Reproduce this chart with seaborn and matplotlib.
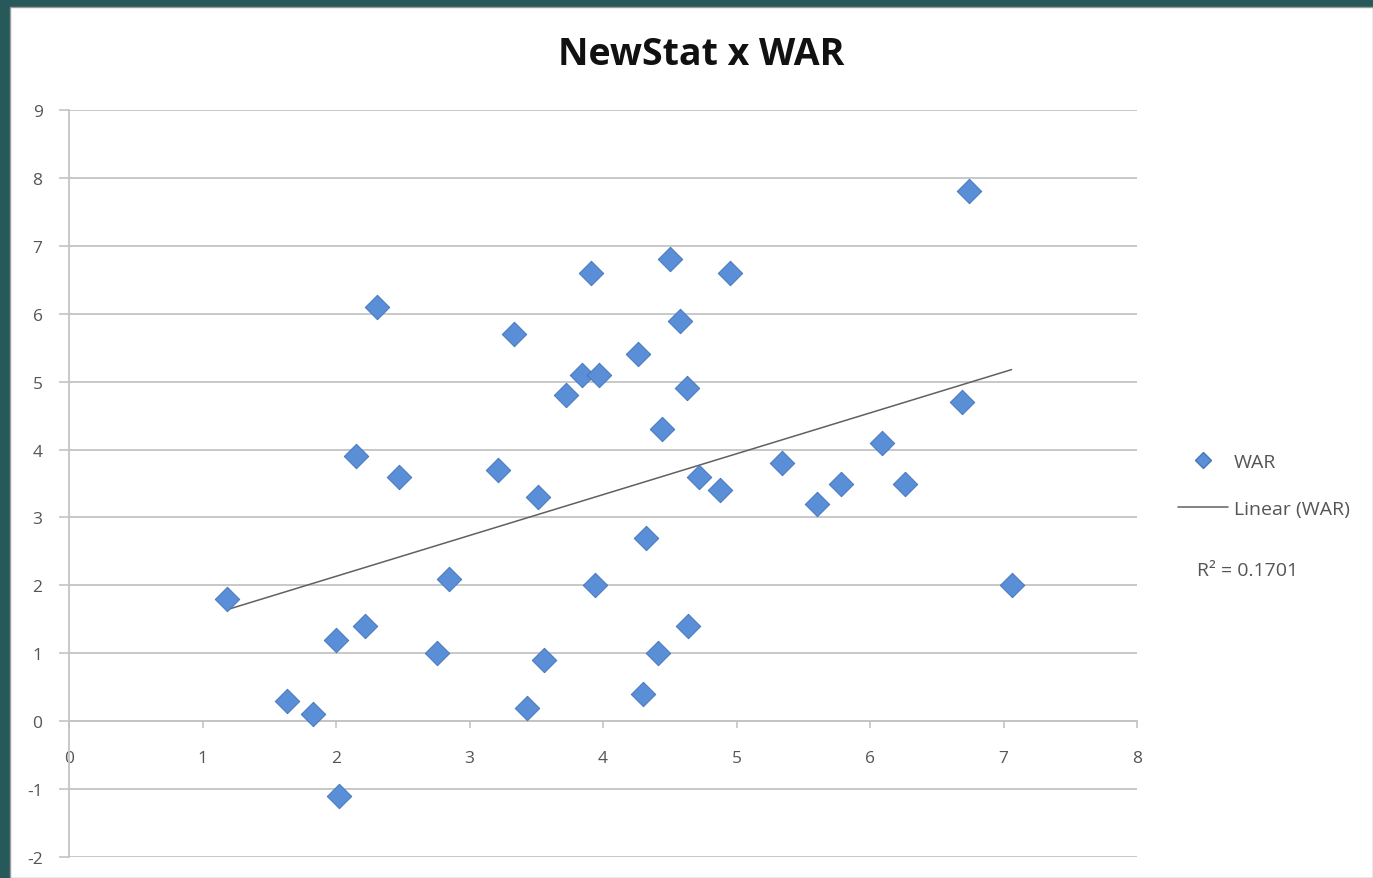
import numpy as np
import pandas as pd
import matplotlib
matplotlib.use("Agg")
import matplotlib.pyplot as plt
from matplotlib.lines import Line2D
from matplotlib.patches import Rectangle
import seaborn as sns

# NewStat values and the matching WAR for each player
newstat = [1.18, 1.63, 1.83, 2.02, 2.00, 2.22, 2.15, 2.31, 2.47, 2.76,
           2.85, 3.21, 3.33, 3.43, 3.51, 3.56, 3.72, 3.84, 3.97, 3.91,
           3.94, 4.26, 4.32, 4.30, 4.41, 4.44, 4.50, 4.58, 4.63, 4.64,
           4.72, 4.88, 4.95, 5.34, 5.60, 5.78, 6.09, 6.26, 6.69, 6.74,
           7.06]
war = [1.8, 0.3, 0.1, -1.1, 1.2, 1.4, 3.9, 6.1, 3.6, 1.0,
       2.1, 3.7, 5.7, 0.2, 3.3, 0.9, 4.8, 5.1, 5.1, 6.6,
       2.0, 5.4, 2.7, 0.4, 1.0, 4.3, 6.8, 5.9, 4.9, 1.4,
       3.6, 3.4, 6.6, 3.8, 3.2, 3.5, 4.1, 3.5, 4.7, 7.8,
       2.0]
x_ticks = [0, 1, 2, 3, 4, 5, 6, 7, 8]
y_ticks = [-2, -1, 0, 1, 2, 3, 4, 5, 6, 7, 8, 9]
title = "NewStat x WAR"
r2_label = "R\u00b2 = 0.1701"

df = pd.DataFrame({"NewStat": newstat, "WAR": war})

sns.set_theme(style="white")
plt.rcParams["font.family"] = ["Open Sans", "DejaVu Sans"]
plt.rcParams["axes.unicode_minus"] = False

W, H = 1373, 879
fig = plt.figure(figsize=(W / 100, H / 100), dpi=100, facecolor="#28595a")

# white slide panel inside the dark frame
fig.patches.append(Rectangle((10 / W, 0), 1 - 10 / W, 1 - 8 / H,
                             transform=fig.transFigure, facecolor="white",
                             edgecolor="#9a9a9a", linewidth=1.0, zorder=-5))

ax = fig.add_axes([69 / W, (H - 858) / H, (1137 - 69) / W, (858 - 111) / H])
ax.set_facecolor("none")
ax.set_zorder(2)

blue = "#5a8fd8"
edge = "#4677bd"
sns.scatterplot(data=df, x="NewStat", y="WAR", marker="D", s=155,
                color=blue, edgecolor=edge, linewidth=0.7, ax=ax,
                zorder=4, legend=False)
sns.regplot(data=df, x="NewStat", y="WAR", scatter=False, ci=None,
            truncate=True, ax=ax,
            line_kws=dict(color="#606060", linewidth=1.1, zorder=3))

ax.set_xlim(0, 8)
ax.set_ylim(-2, 9)
ax.set_xticks(x_ticks)
ax.set_yticks(y_ticks)
ax.set_xlabel("")
ax.set_ylabel("")

grid_c = "#c4c4c4"
ax.yaxis.grid(True, color=grid_c, linewidth=1.3)
ax.xaxis.grid(False)
ax.set_axisbelow(True)

for side in ("top", "right"):
    ax.spines[side].set_visible(False)
ax.spines["left"].set_color(grid_c)
ax.spines["left"].set_linewidth(1.3)
ax.spines["bottom"].set_position(("data", 0))
ax.spines["bottom"].set_color(grid_c)
ax.spines["bottom"].set_linewidth(1.3)

ax.tick_params(axis="y", length=7, width=1.2, color=grid_c, pad=12,
               labelsize=12.5, labelcolor="#555555", left=True)
ax.tick_params(axis="x", length=5, width=1.2, color=grid_c, pad=16,
               labelsize=12.5, labelcolor="#555555", bottom=True,
               direction="out")

fig.text(701 / W, 1 - 55 / H, title, ha="center", va="center",
         fontsize=27, fontweight="bold", color="#111111")

handles = [
    Line2D([], [], marker="D", linestyle="none", markersize=8.5,
           markerfacecolor=blue, markeredgecolor=edge, label="WAR"),
    Line2D([], [], color="#606060", linewidth=1.1, label="Linear (WAR)"),
]
leg = fig.legend(handles=handles, loc="upper left",
                 bbox_to_anchor=(1170 / W, 1 - 446 / H), frameon=False,
                 fontsize=14, labelspacing=1.5, handlelength=2.6,
                 handletextpad=0.3, borderaxespad=0)
for t in leg.get_texts():
    t.set_color("#555555")

fig.text(1197 / W, 1 - 571 / H, r2_label, ha="left", va="center",
         fontsize=14, color="#555555")

fig.savefig("out.png", dpi=100, facecolor=fig.get_facecolor())
